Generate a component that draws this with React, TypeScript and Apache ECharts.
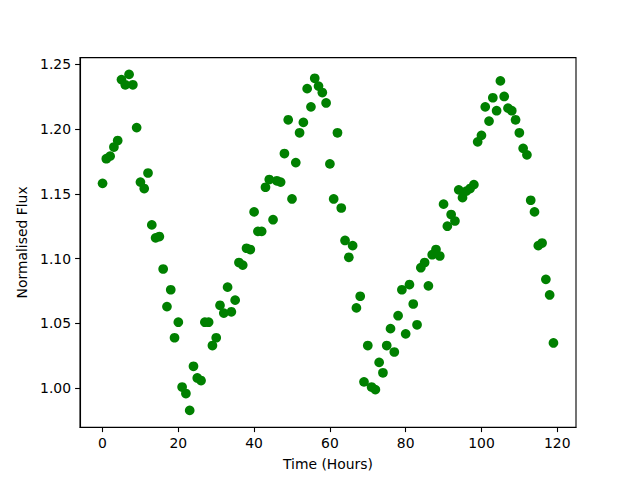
import React, { useEffect, useRef } from "react";
import * as echarts from "echarts";

const hours: number[] = Array.from({ length: 120 }, (_, i) => i);
const flux: number[] = [
  1.158, 1.177, 1.179, 1.186, 1.191, 1.238, 1.234, 1.242, 1.234, 1.201,
  1.159, 1.154, 1.166, 1.126, 1.116, 1.117, 1.092, 1.063, 1.076, 1.039,
  1.051, 1.001, 0.996, 0.983, 1.017, 1.008, 1.006, 1.051, 1.051, 1.033,
  1.039, 1.064, 1.058, 1.078, 1.059, 1.068, 1.097, 1.095, 1.108, 1.107,
  1.136, 1.121, 1.121, 1.155, 1.161, 1.130, 1.160, 1.159, 1.181, 1.207,
  1.146, 1.174, 1.197, 1.205, 1.231, 1.217, 1.239, 1.233, 1.228, 1.220,
  1.173, 1.146, 1.197, 1.139, 1.114, 1.101, 1.110, 1.062, 1.071, 1.005,
  1.033, 1.001, 0.999, 1.020, 1.012, 1.033, 1.046, 1.028, 1.056, 1.076,
  1.042, 1.080, 1.065, 1.049, 1.093, 1.097, 1.079, 1.103, 1.107, 1.102,
  1.142, 1.125, 1.134, 1.129, 1.153, 1.147, 1.152, 1.154, 1.157, 1.190,
  1.195, 1.217, 1.206, 1.224, 1.214, 1.237, 1.225, 1.216, 1.214, 1.207,
  1.197, 1.185, 1.180, 1.145, 1.136, 1.110, 1.112, 1.084, 1.072, 1.035,
];
const xTicks: number[] = [0, 20, 40, 60, 80, 100, 120];
const yTicks: number[] = [1.0, 1.05, 1.1, 1.15, 1.2, 1.25];

export default function App() {
  const ref = useRef<HTMLDivElement>(null);
  useEffect(() => {
    if (!ref.current) return;
    const chart = echarts.init(ref.current, undefined, { renderer: "svg" });
    const font = "DejaVu Sans";
    const xMin = Math.min(...hours), xMax = Math.max(...hours);
    const yMinD = Math.min(...flux), yMaxD = Math.max(...flux);
    const xr = xMax - xMin, yr = yMaxD - yMinD;
    chart.setOption({
      animation: false,
      backgroundColor: "#ffffff",
      grid: {
        left: 80,
        right: 64,
        top: 57.6,
        bottom: 52.8,
        containLabel: false,
        show: true,
        borderColor: "#000",
        borderWidth: 1.1,
        backgroundColor: "transparent",
      },
      xAxis: {
        type: "value",
        min: xMin - 0.05 * xr,
        max: xMax + 0.05 * xr,
        name: "Time (Hours)",
        nameLocation: "middle",
        nameGap: 30,
        nameTextStyle: { fontFamily: font, fontSize: 13.9, color: "#000" },
        splitLine: { show: false },
        axisLine: { show: true, onZero: false, lineStyle: { color: "#000", width: 1.1 } },
        axisTick: {
          show: true,
          length: 4.9,
          customValues: xTicks,
          lineStyle: { color: "#000", width: 1.1 },
        },
        axisLabel: {
          customValues: xTicks,
          margin: 9,
          fontFamily: font,
          fontSize: 13.9,
          color: "#000",
        },
      },
      yAxis: {
        type: "value",
        min: yMinD - 0.05 * yr,
        max: yMaxD + 0.05 * yr,
        name: "Normalised Flux",
        nameLocation: "middle",
        nameGap: 47,
        nameRotate: 90,
        nameTextStyle: { fontFamily: font, fontSize: 13.9, color: "#000" },
        splitLine: { show: false },
        axisLine: { show: true, onZero: false, lineStyle: { color: "#000", width: 1.1 } },
        axisTick: {
          show: true,
          length: 4.9,
          customValues: yTicks,
          lineStyle: { color: "#000", width: 1.1 },
        },
        axisLabel: {
          customValues: yTicks,
          margin: 9,
          fontFamily: font,
          fontSize: 13.9,
          color: "#000",
          formatter: (v: number) => v.toFixed(2),
        },
      },
      series: [
        {
          type: "scatter",
          data: hours.map((h, i) => [h, flux[i]]),
          symbol: "circle",
          symbolSize: 9.7,
          itemStyle: { color: "#008000", opacity: 1 },
        },
      ],
    });
    return () => chart.dispose();
  }, []);
  return <div ref={ref} style={{ width: 640, height: 480, position: "absolute", left: 0, top: 0 }} />;
}
